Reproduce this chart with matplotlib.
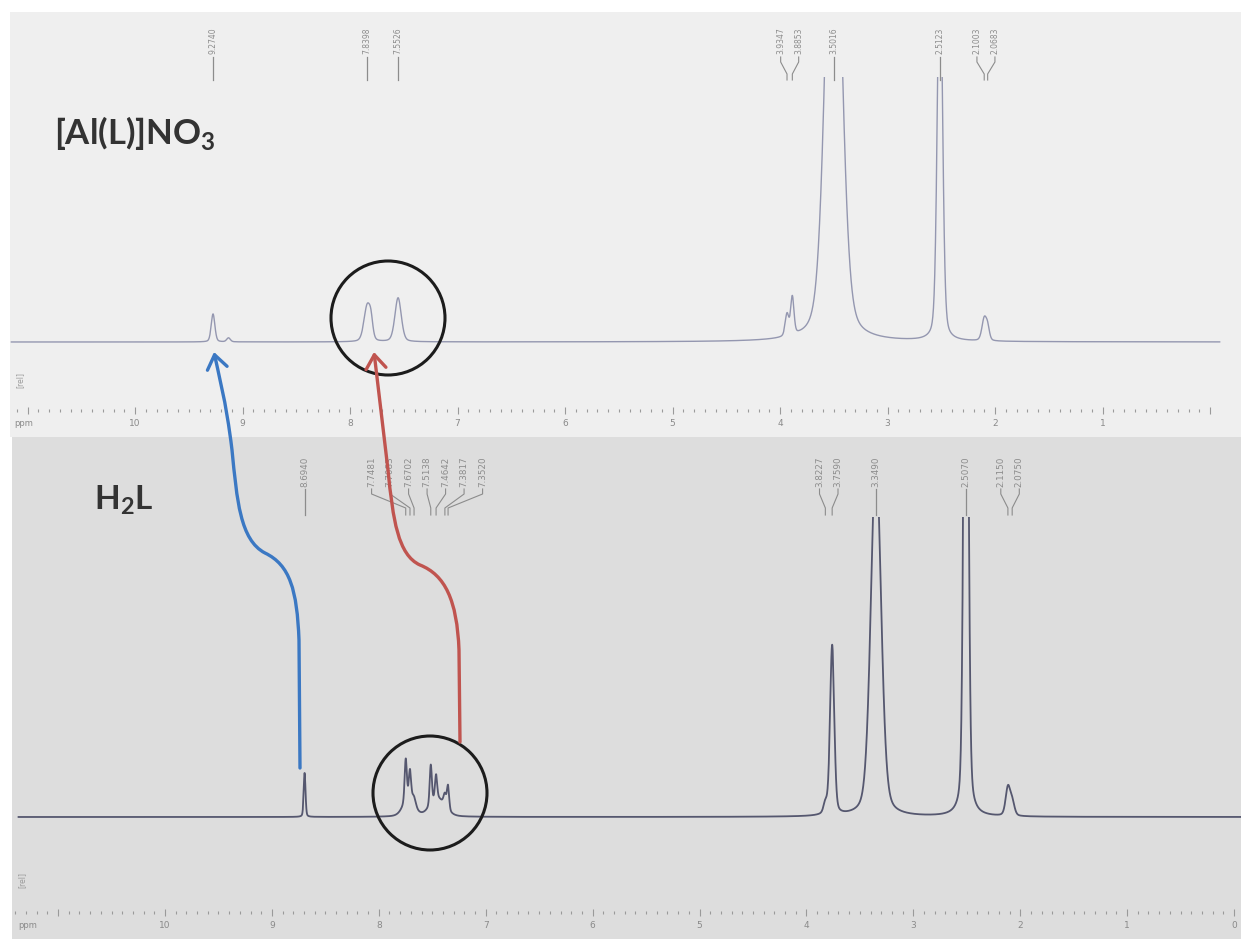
import numpy as np
import matplotlib
matplotlib.use("Agg")
import matplotlib.pyplot as plt
from matplotlib.patches import Rectangle, Circle, FancyArrowPatch
from matplotlib.path import Path

plt.rcParams["mathtext.fontset"] = "custom"
plt.rcParams["mathtext.rm"] = "Lato"
plt.rcParams["mathtext.bf"] = "Lato:bold"

W, H = 1241, 939

# [Al(L)]NO3 : positions (ppm), heights, half widths (ppm)
top_ppm = [9.2740, 9.1300, 7.8398, 7.8050, 7.5526, 3.9347, 3.8853, 3.5016, 2.5123, 2.1003, 2.0683]
top_height = [28, 4, 36, 14, 44, 22, 38, 540, 400, 22, 12]
top_width = [0.020, 0.020, 0.035, 0.020, 0.035, 0.020, 0.018, 0.084, 0.028, 0.025, 0.020]
top_groups = [[0], [2], [4], [5, 6], [7], [8], [9, 10]]

# H2L ligand
bot_ppm = [8.6940, 7.7481, 7.7083, 7.6702, 7.5138, 7.4642, 7.3817, 7.3520, 7.7200, 7.4500,
           3.8227, 3.7590, 3.3490, 2.5070, 2.1150, 2.0750]
bot_height = [44, 42, 28, 8, 40, 24, 12, 24, 18, 18, 10, 170, 362, 787, 28, 14]
bot_width = [0.010, 0.012, 0.012, 0.020, 0.012, 0.012, 0.015, 0.012, 0.060, 0.080,
             0.020, 0.023, 0.056, 0.023, 0.025, 0.025]
bot_groups = [[0], [1, 2, 3, 4, 5, 6, 7], [10, 11], [12], [13], [14, 15]]

ruler_labels = ["10", "9", "8", "7", "6", "5", "4", "3", "2", "1", "0"]


def pvoigt(x, c, h, w):
    t = (x - c) / w
    return h * (0.7 * np.exp(-np.log(2) * t ** 2) + 0.3 / (1 + t ** 2))


def spectrum(x, ppm, height, width):
    y = np.zeros_like(x)
    for c, h, w in zip(ppm, height, width):
        y += pvoigt(x, c, h, w)
    return y


def fig_box(x0, y0, x1, y1):
    return [x0 / W, 1 - y1 / H, (x1 - x0) / W, (y1 - y0) / H]


fig = plt.figure(figsize=(W / 100, H / 100), dpi=100)
fig.patch.set_facecolor("white")

# scanned page backgrounds
bg = fig.add_axes([0, 0, 1, 1], zorder=-5)
bg.set_xlim(0, W)
bg.set_ylim(H, 0)
bg.axis("off")
bg.add_patch(Rectangle((10, 12), 1231, 425, facecolor="#efefef", edgecolor="none"))
bg.add_patch(Rectangle((12, 437), 1229, 502, facecolor="#dddddd", edgecolor="none"))


def draw_panel(box, zero_px, scale, base_px, ppm, height, width, groups, line_col, lw,
               x_range, lab, show_zero):
    x0, y0, x1, y1 = box
    ax = fig.add_axes(fig_box(x0, y0, x1, y1), zorder=1)
    ax.set_facecolor("none")
    ax.set_xlim((zero_px - x0) / scale, (zero_px - x1) / scale)
    ax.set_ylim(-(y1 - base_px), base_px - y0)
    ax.axis("off")

    xs = np.linspace(x_range[0], x_range[1], 15000)
    ax.plot(xs, spectrum(xs, ppm, height, width), color=line_col, lw=lw)

    def u(py):
        return base_px - py

    # ppm ruler
    ticks = np.round(np.arange(0, x_range[1] + 0.05, 0.1), 1)
    minor = [t for t in ticks if abs(t - round(t)) > 1e-6]
    major = [t for t in ticks if abs(t - round(t)) < 1e-6]
    ty = lab["tick_y"]
    ax.vlines(minor, u(ty + 2), u(ty - 1), color="#9a9a9a", lw=0.8, clip_on=False)
    ax.vlines(major, u(ty + 4), u(ty - 3), color="#9a9a9a", lw=0.8, clip_on=False)
    for v, s in zip(range(10, -1, -1), ruler_labels):
        if v == 0 and not show_zero:
            continue
        ax.text(v, u(ty + 14), s, fontsize=6.5, color="#8a8a8a", ha="center", va="center",
                clip_on=False)
    ax.text((zero_px - lab["ppm_x"]) / scale, u(ty + 14), "ppm", fontsize=6, color="#8a8a8a",
            ha="center", va="center", clip_on=False)
    ax.text((zero_px - lab["rel_x"]) / scale, u(lab["rel_y"]), "[rel]", fontsize=5.5,
            color="#9a9a9a", rotation=90, ha="center", va="center", clip_on=False)

    # peak labels with connector lines
    for g in groups:
        vals = sorted([ppm[i] for i in g], reverse=True)
        n = len(vals)
        centre = np.mean(vals)
        step = lab["spacing"] / scale
        for k, v in enumerate(vals):
            tx = centre + ((n - 1) / 2 - k) * step
            ax.text(tx, u(lab["text_bottom"]), f"{v:.4f}", rotation=90, fontsize=lab["fs"],
                    color="#8c8c8c", ha="center", va="bottom", clip_on=False)
            s0, s1, s2, s3 = lab["stem"]
            if n == 1:
                ax.plot([v, v], [u(s0), u(s3)], color="#8c8c8c", lw=0.9, clip_on=False)
            else:
                ax.plot([tx, tx, v, v], [u(s0), u(s1), u(s2), u(s3)], color="#8c8c8c",
                        lw=0.8, clip_on=False)
    return ax


draw_panel((10, 77, 1241, 437), 1210, 107.5, 342, top_ppm, top_height, top_width, top_groups,
           "#9497b0", 1.0, (-0.09, 11.15),
           dict(tick_y=410, ppm_x=24, rel_x=20, rel_y=380, spacing=18, fs=5.5,
                text_bottom=54, stem=(57, 62, 74, 80)),
           show_zero=False)

draw_panel((12, 517, 1241, 939), 1234, 106.9, 817, bot_ppm, bot_height, bot_width, bot_groups,
           "#55576f", 1.3, (-0.06, 11.37),
           dict(tick_y=912, ppm_x=28, rel_x=22, rel_y=880, spacing=18.5, fs=6.3,
                text_bottom=487, stem=(489, 494, 508, 515)),
           show_zero=True)

# overlay: compound names, circles and shift arrows
ov = fig.add_axes([0, 0, 1, 1], zorder=5)
ov.set_xlim(0, W)
ov.set_ylim(H, 0)
ov.set_facecolor("none")
ov.axis("off")

ov.text(54, 133, r"[Al(L)]NO$_\mathbf{3}$", fontsize=25, fontweight="bold", family="Lato",
        color="#333333", ha="left", va="center")
ov.text(94, 500, r"H$_\mathbf{2}$L", fontsize=24, fontweight="bold", family="Lato",
        color="#333333", ha="left", va="center")

for cx, cy in [(388, 318), (430, 793)]:
    ov.add_patch(Circle((cx, cy), 57, fill=False, edgecolor="#1c1c1c", lw=2.2))

C = Path.CURVE4
codes = [Path.MOVETO, Path.LINETO, C, C, C, C, C, C, C, C, C]
blue = [(300, 768), (299, 640), (297, 590), (290, 565), (265, 553), (240, 540), (237, 500),
        (232, 450), (226, 400), (218, 372), (214, 352)]
red = [(460, 742), (459, 650), (457, 600), (445, 575), (420, 565), (398, 555), (393, 520),
       (388, 470), (382, 420), (378, 385), (374, 352)]
for verts, col in [(blue, "#3b78c3"), (red, "#c0544f")]:
    ov.add_patch(FancyArrowPatch(path=Path(verts, codes), arrowstyle="->,head_length=0.55,head_width=0.4",
                                 mutation_scale=18, color=col, lw=2.4))

fig.savefig("out.png", dpi=100)
